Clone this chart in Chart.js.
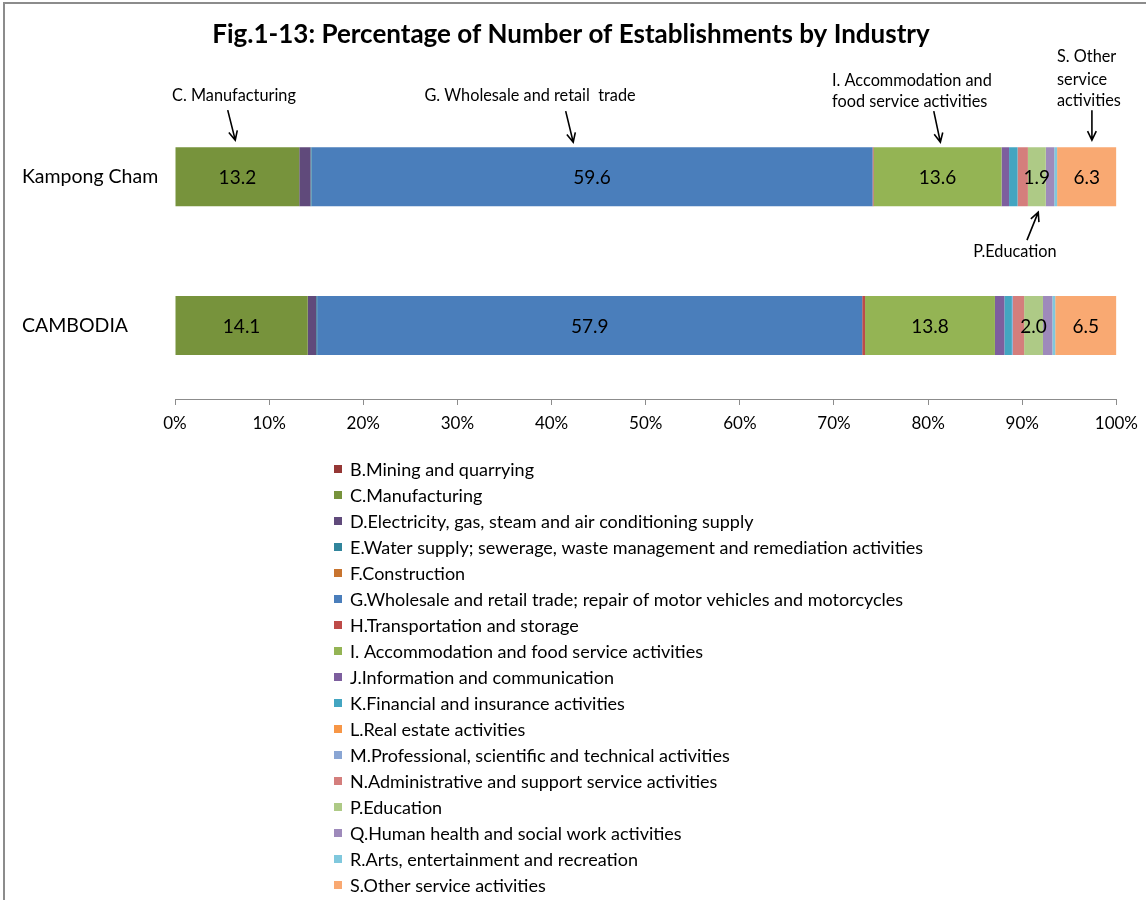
<!DOCTYPE html>
<html>
<head>
<meta charset="utf-8">
<script src="https://cdn.jsdelivr.net/npm/chart.js@4.4.0/dist/chart.umd.min.js"></script>
<style>
  html, body { margin: 0; padding: 0; background: #fff; }
  #wrap { width: 1146px; height: 900px; position: relative; }
</style>
</head>
<body>
<div id="wrap"><canvas id="myChart" width="1146" height="900"></canvas></div>
<script>
// regions on the y axis
const regions = ['Kampong Cham', 'CAMBODIA'];

// industries (legend order, stacking order)
const industries = [
    'B.Mining and quarrying',
    'C.Manufacturing',
    'D.Electricity, gas, steam and air conditioning supply',
    'E.Water supply; sewerage, waste management and remediation activities',
    'F.Construction',
    'G.Wholesale and retail trade; repair of motor vehicles and motorcycles',
    'H.Transportation and storage',
    'I. Accommodation and food service activities',
    'J.Information and communication',
    'K.Financial and insurance activities',
    'L.Real estate activities',
    'M.Professional, scientific and technical activities',
    'N.Administrative and support service activities',
    'P.Education',
    'Q.Human health and social work activities',
    'R.Arts, entertainment and recreation',
    'S.Other service activities'
];

// percentages, [Kampong Cham, CAMBODIA]
const kampongCham = [0.0, 13.2, 1.2, 0.1, 0.0, 59.6, 0.1, 13.6, 0.8, 0.9, 0.0, 0.0, 1.1, 1.9, 0.9, 0.3, 6.3];
const cambodia    = [0.0, 14.1, 0.9, 0.1, 0.0, 57.9, 0.3, 13.8, 1.0, 0.8, 0.0, 0.1, 1.2, 2.0, 1.0, 0.3, 6.5];

const colors = [
    '#953735', '#77933C', '#604A7B', '#31859C', '#C8742F', '#4A7EBB', '#BE4B48', '#94B454',
    '#7D5E9E', '#43A5C1', '#F79646', '#8AA6D4', '#D47E7C', '#AECA86', '#9E8ABB', '#80C8DD', '#F9A972'
];

// segments that carry a value label
const labelled = ['C.Manufacturing', industries[5], industries[7], 'P.Education', 'S.Other service activities'];

const xTicks = [0, 10, 20, 30, 40, 50, 60, 70, 80, 90, 100];

const FONT = 'Lato, "Open Sans", sans-serif';

const datasets = industries.map((name, i) => ({
    label: name,
    data: [kampongCham[i], cambodia[i]],
    backgroundColor: colors[i],
    borderWidth: 0,
    barPercentage: 0.8,
    categoryPercentage: 0.495
}));

// draws frame, value labels, arrows and the one-per-row legend
const extras = {
    id: 'extras',
    afterDraw(chart) {
        const ctx = chart.ctx;
        const x = chart.scales.x;
        ctx.save();

        // outer frame
        ctx.strokeStyle = '#8c8c8c';
        ctx.lineWidth = 2;
        ctx.beginPath();
        ctx.moveTo(4, 900);
        ctx.lineTo(4, 3);
        ctx.lineTo(1146, 3);
        ctx.stroke();

        // value labels
        ctx.fillStyle = '#000';
        ctx.font = '19px ' + FONT;
        ctx.textAlign = 'center';
        ctx.textBaseline = 'middle';
        chart.data.datasets.forEach((ds, di) => {
            if (!labelled.includes(ds.label)) return;
            chart.getDatasetMeta(di).data.forEach((bar, bi) => {
                ctx.fillText(ds.data[bi].toFixed(1), (bar.x + bar.base) / 2, bar.y + 1);
            });
        });

        // annotations with arrows
        const bar0 = chart.getDatasetMeta(1).data[0];
        const barTop = bar0.y - bar0.height / 2;
        const barBottom = bar0.y + bar0.height / 2;
        function arrow(x1, y1, x2, y2) {
            ctx.strokeStyle = '#000';
            ctx.lineWidth = 1.6;
            ctx.beginPath();
            ctx.moveTo(x1, y1);
            ctx.lineTo(x2, y2);
            const a = Math.atan2(y2 - y1, x2 - x1);
            ctx.moveTo(x2 - 10 * Math.cos(a - 0.45), y2 - 10 * Math.sin(a - 0.45));
            ctx.lineTo(x2, y2);
            ctx.lineTo(x2 - 10 * Math.cos(a + 0.45), y2 - 10 * Math.sin(a + 0.45));
            ctx.stroke();
        }
        ctx.font = '16.3px ' + FONT;
        ctx.fillStyle = '#000';
        ctx.textAlign = 'center';
        ctx.fillText('C. Manufacturing', 234, 96);
        arrow(x.getPixelForValue(5.6), barTop - 37, x.getPixelForValue(6.4), barTop - 7);
        ctx.fillText('G. Wholesale and retail  trade', 530, 96);
        arrow(x.getPixelForValue(41.5), barTop - 36, x.getPixelForValue(42.3), barTop - 5);
        ctx.textAlign = 'left';
        ctx.fillText('I. Accommodation and', 832, 81);
        ctx.fillText('food service activities', 832, 102);
        arrow(x.getPixelForValue(80.6), barTop - 36, x.getPixelForValue(81.3), barTop - 5);
        ctx.fillText('S. Other', 1057, 57);
        ctx.fillText('service', 1057, 80);
        ctx.fillText('activities', 1057, 101);
        arrow(x.getPixelForValue(97.4), barTop - 37, x.getPixelForValue(97.4), barTop - 7);
        ctx.textAlign = 'center';
        ctx.fillText('P.Education', 1015, 252);
        arrow(x.getPixelForValue(90.5), barBottom + 34, x.getPixelForValue(91.7), barBottom + 6);

        // legend, one item per row
        ctx.font = '18px ' + FONT;
        ctx.textAlign = 'left';
        chart.data.datasets.forEach((ds, i) => {
            const cy = 469 + i * 26;
            ctx.fillStyle = ds.backgroundColor;
            ctx.fillRect(334, cy - 4, 8, 8);
            ctx.fillStyle = '#000';
            ctx.fillText(ds.label, 350, cy + 1);
        });
        ctx.restore();
    }
};

const ctx = document.getElementById('myChart').getContext('2d');
const myChart = new Chart(ctx, {
    type: 'bar',
    data: { labels: regions, datasets: datasets },
    options: {
        indexAxis: 'y',
        responsive: false,
        animation: false,
        layout: { padding: { left: 22, right: 26, top: 0, bottom: 460 } },
        plugins: {
            legend: { display: false },
            tooltip: { enabled: false },
            title: {
                display: true,
                text: 'Fig.1-13: Percentage of Number of Establishments by Industry',
                color: '#000',
                font: { family: FONT, size: 26, weight: 'bold' },
                padding: { top: 19, bottom: 52 }
            }
        },
        scales: {
            x: {
                stacked: true,
                min: 0,
                max: 100,
                afterBuildTicks: scale => { scale.ticks = xTicks.map(v => ({ value: v })); },
                afterFit: scale => { scale.height = 40; },
                border: { display: true, color: '#8c8c8c', width: 1 },
                grid: { drawOnChartArea: false, tickLength: 5, color: '#8c8c8c' },
                ticks: {
                    callback: v => v + '%',
                    color: '#000',
                    font: { family: FONT, size: 17 },
                    padding: 8,
                    maxRotation: 0
                }
            },
            y: {
                stacked: true,
                afterFit: scale => { scale.width = 153; },
                border: { display: false },
                grid: { display: false },
                ticks: {
                    crossAlign: 'far',
                    color: '#000',
                    font: { family: FONT, size: 19.5 }
                }
            }
        }
    },
    plugins: [extras]
});
</script>
</body>
</html>
